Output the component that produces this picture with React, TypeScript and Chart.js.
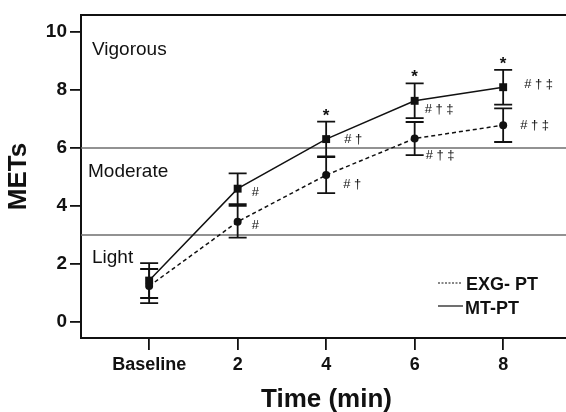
import React, { useEffect, useRef } from 'react';
import { Chart, registerables } from 'chart.js';

Chart.register(...registerables);

const categories = ['Baseline', '2', '4', '6', '8'];
const exgMean = [1.24, 3.46, 5.07, 6.33, 6.79];
const exgSd = [0.59, 0.55, 0.62, 0.57, 0.58];
const mtMean = [1.43, 4.6, 6.31, 7.63, 8.1];
const mtSd = [0.6, 0.53, 0.6, 0.6, 0.6];
const yTicks = [0, 2, 4, 6, 8, 10];
const zoneLines = [6, 3];
const zoneLabels = ['Vigorous', 'Moderate', 'Light'];
const zoneLabelY = [9.4, 5.17, 2.2];
const mtMarks = ['', '#', '# \u2020', '# \u2020 \u2021', '# \u2020 \u2021'];
const exgMarks = ['', '#', '# \u2020', '# \u2020 \u2021', '# \u2020 \u2021'];
const stars = ['', '', '*', '*', '*'];
const legendLabels = ['EXG- PT', 'MT-PT'];

const FONT = '"Liberation Sans", Arial, sans-serif';

// styling offsets (pixels) for annotation text
const mtDx = [0, 14, 18, 10, 21];
const mtDy = [0, 4, 0, 9, -3];
const exgDx = [0, 14, 17, 11, 17];
const exgDy = [0, 4, 9, 17, 0];
const zoneDx = [11, 7, 11];

const extrasPlugin = {
  id: 'extras',
  beforeDatasetsDraw(chart: any) {
    const { ctx, chartArea, scales } = chart;
    const x = scales.x, y = scales.y;
    ctx.save();
    ctx.strokeStyle = '#6e6e6e';
    ctx.lineWidth = 1.5;
    zoneLines.forEach((v) => {
      const py = y.getPixelForValue(v);
      ctx.beginPath();
      ctx.moveTo(chartArea.left, py);
      ctx.lineTo(chartArea.right, py);
      ctx.stroke();
    });
    ctx.fillStyle = '#111';
    ctx.font = `19px ${FONT}`;
    ctx.textBaseline = 'middle';
    ctx.textAlign = 'left';
    zoneLabels.forEach((t, i) => {
      ctx.fillText(t, chartArea.left + zoneDx[i], y.getPixelForValue(zoneLabelY[i]));
    });
    ctx.strokeStyle = '#111';
    ctx.lineWidth = 1.8;
    const drawErr = (means: number[], sds: number[]) => {
      means.forEach((m, i) => {
        const px = x.getPixelForValue(i);
        const top = y.getPixelForValue(m + sds[i]);
        const bot = y.getPixelForValue(m - sds[i]);
        ctx.beginPath();
        ctx.moveTo(px, top);
        ctx.lineTo(px, bot);
        ctx.moveTo(px - 9, top);
        ctx.lineTo(px + 9, top);
        ctx.moveTo(px - 9, bot);
        ctx.lineTo(px + 9, bot);
        ctx.stroke();
      });
    };
    drawErr(mtMean, mtSd);
    drawErr(exgMean, exgSd);
    ctx.restore();
  },
  afterDraw(chart: any) {
    const { ctx, chartArea, scales } = chart;
    const x = scales.x, y = scales.y;
    ctx.save();
    ctx.strokeStyle = '#111';
    ctx.lineWidth = 2;
    ctx.beginPath();
    ctx.moveTo(chartArea.left, chartArea.top);
    ctx.lineTo(chartArea.right, chartArea.top);
    ctx.stroke();
    ctx.fillStyle = '#111';
    ctx.font = `13px ${FONT}`;
    ctx.textAlign = 'left';
    ctx.textBaseline = 'middle';
    mtMarks.forEach((t, i) => {
      if (!t) return;
      ctx.fillText(t, x.getPixelForValue(i) + mtDx[i], y.getPixelForValue(mtMean[i]) + mtDy[i]);
    });
    exgMarks.forEach((t, i) => {
      if (!t) return;
      ctx.fillText(t, x.getPixelForValue(i) + exgDx[i], y.getPixelForValue(exgMean[i]) + exgDy[i]);
    });
    ctx.font = `bold 17px ${FONT}`;
    ctx.textAlign = 'center';
    ctx.textBaseline = 'alphabetic';
    stars.forEach((t, i) => {
      if (!t) return;
      ctx.fillText(t, x.getPixelForValue(i), y.getPixelForValue(mtMean[i] + mtSd[i]) - 1);
    });
    const lx = chartArea.right - 128;
    const ly1 = chartArea.bottom - 53;
    const ly2 = chartArea.bottom - 29;
    ctx.lineWidth = 1.2;
    ctx.setLineDash([2, 1.5]);
    ctx.beginPath();
    ctx.moveTo(lx, ly1 - 2);
    ctx.lineTo(lx + 23, ly1 - 2);
    ctx.stroke();
    ctx.setLineDash([]);
    ctx.beginPath();
    ctx.moveTo(lx, ly2 - 3);
    ctx.lineTo(lx + 25, ly2 - 3);
    ctx.stroke();
    ctx.font = `bold 18px ${FONT}`;
    ctx.textAlign = 'left';
    ctx.textBaseline = 'middle';
    ctx.fillText(legendLabels[0], lx + 28, ly1);
    ctx.fillText(legendLabels[1], lx + 27, ly2);
    ctx.font = `bold 26px ${FONT}`;
    ctx.textAlign = 'center';
    ctx.fillText('Time (min)', (chartArea.left + chartArea.right) / 2 + 3, chartArea.bottom + 62);
    ctx.translate(19, (chartArea.top + chartArea.bottom) / 2);
    ctx.rotate(-Math.PI / 2);
    ctx.fillText('METs', 0, 0);
    ctx.restore();
  },
};

export default function App() {
  const ref = useRef<HTMLCanvasElement>(null);
  useEffect(() => {
    if (!ref.current) return;
    const chart = new Chart(ref.current, {
      type: 'line',
      data: {
        datasets: [
          {
            label: legendLabels[0],
            data: exgMean.map((v, i) => ({ x: i, y: v })),
            borderColor: '#111',
            backgroundColor: '#111',
            borderWidth: 1.5,
            borderDash: [4, 3],
            pointStyle: 'circle',
            pointRadius: 4,
            pointBorderWidth: 0,
          },
          {
            label: legendLabels[1],
            data: mtMean.map((v, i) => ({ x: i, y: v })),
            borderColor: '#111',
            backgroundColor: '#111',
            borderWidth: 1.5,
            pointStyle: 'rect',
            pointRadius: 5.6,
            pointBorderWidth: 0,
          },
        ],
      },
      options: {
        animation: false,
        responsive: false,
        layout: { autoPadding: false, padding: { top: 15, right: 0, left: 0, bottom: 0 } },
        plugins: { legend: { display: false }, tooltip: { enabled: false } },
        scales: {
          x: {
            type: 'linear',
            min: -0.77,
            max: 4.71,
            afterBuildTicks: (s: any) => {
              s.ticks = categories.map((_, i) => ({ value: i }));
            },
            afterFit: (s: any) => {
              s.height = 74;
              s.paddingLeft = 0;
              s.paddingRight = 0;
            },
            ticks: {
              callback: (v: any) => categories[v as number] ?? '',
              color: '#111',
              font: { family: FONT, size: 18, weight: 'bold' },
              padding: 4,
              maxRotation: 0,
            },
            grid: { drawOnChartArea: false, drawTicks: true, tickLength: 12, color: '#111', lineWidth: 1.8 },
            border: { display: true, color: '#111', width: 2 },
          },
          y: {
            min: -0.55,
            max: 10.59,
            afterBuildTicks: (s: any) => {
              s.ticks = yTicks.map((v) => ({ value: v }));
            },
            afterFit: (s: any) => {
              s.width = 81;
              s.paddingTop = 0;
              s.paddingBottom = 0;
            },
            ticks: {
              color: '#111',
              font: { family: FONT, size: 19, weight: 'bold' },
              padding: 3,
            },
            grid: { drawOnChartArea: false, drawTicks: true, tickLength: 11, color: '#111', lineWidth: 1.8 },
            border: { display: true, color: '#111', width: 2 },
          },
        },
      },
      plugins: [extrasPlugin],
    });
    return () => chart.destroy();
  }, []);
  return (
    <div style={{ position: 'fixed', left: 0, top: 0, width: 566, height: 412, background: '#fff' }}>
      <canvas ref={ref} width={566} height={412} style={{ width: 566, height: 412 }} />
    </div>
  );
}
